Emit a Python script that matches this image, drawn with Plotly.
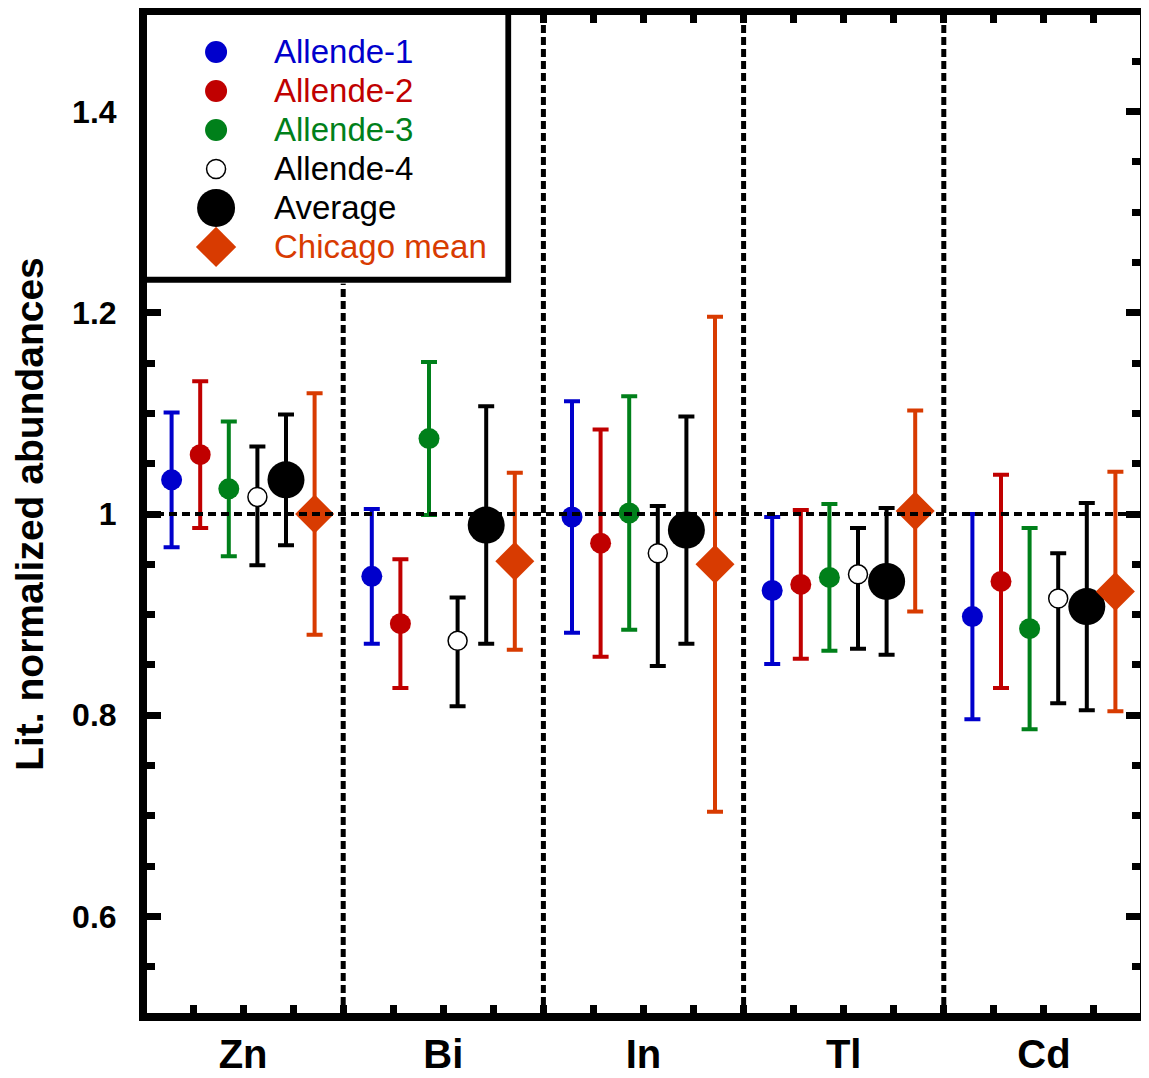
import plotly.graph_objects as go

# ---------------- data ----------------
elements = ["Zn", "Bi", "In", "Tl", "Cd"]
series_names = ["Allende-1", "Allende-2", "Allende-3", "Allende-4", "Average", "Chicago mean"]

allende1 = [1.034, 0.938, 0.997, 0.924, 0.898]
allende1_err = [0.067, 0.067, 0.115, 0.073, 0.102]

allende2 = [1.059, 0.891, 0.971, 0.930, 0.933]
allende2_err = [0.073, 0.064, 0.113, 0.074, 0.106]

allende3 = [1.025, 1.075, 1.001, 0.937, 0.886]
allende3_err = [0.067, 0.076, 0.116, 0.073, 0.100]

allende4 = [1.017, 0.874, 0.961, 0.940, 0.916]
allende4_err_plus = [0.050, 0.043, 0.047, 0.046, 0.045]
allende4_err_minus = [0.068, 0.065, 0.112, 0.074, 0.104]

average = [1.034, 0.989, 0.984, 0.933, 0.908]
average_err = [0.065, 0.118, 0.113, 0.073, 0.103]

chicago = [1.000, 0.953, 0.950, 1.003, 0.923]
chicago_err = [0.120, 0.088, 0.246, 0.100, 0.119]

y_tickvals = [0.6, 0.8, 1.0, 1.2, 1.4]
y_ticktext = ["0.6", "0.8", "1", "1.2", "1.4"]

# ---------------- styles ----------------
BLUE = "#0000CC"
RED = "#C00000"
GREEN = "#00801A"
ORANGE = "#D83B01"
FONT = "Liberation Sans, Arial, sans-serif"

series = [
    dict(y=allende1, ep=allende1_err, em=allende1_err, ecolor=BLUE,
         symbol="circle", size=21, fill=BLUE, lw=0, tcolor=BLUE, lsize=22),
    dict(y=allende2, ep=allende2_err, em=allende2_err, ecolor=RED,
         symbol="circle", size=21, fill=RED, lw=0, tcolor=RED, lsize=22),
    dict(y=allende3, ep=allende3_err, em=allende3_err, ecolor=GREEN,
         symbol="circle", size=21, fill=GREEN, lw=0, tcolor=GREEN, lsize=22),
    dict(y=allende4, ep=allende4_err_plus, em=allende4_err_minus, ecolor="black",
         symbol="circle", size=19, fill="white", lw=1.5, tcolor="black", lsize=19),
    dict(y=average, ep=average_err, em=average_err, ecolor="black",
         symbol="circle", size=37, fill="black", lw=0, tcolor="black", lsize=38),
    dict(y=chicago, ep=chicago_err, em=chicago_err, ecolor=ORANGE,
         symbol="diamond", size=30, fill=ORANGE, lw=0, tcolor=ORANGE, lsize=31),
]

n_series = len(series)
fig = go.Figure()

for k, s in enumerate(series):
    xs = [i + (k + 1) / (n_series + 1) for i in range(len(elements))]
    fig.add_trace(go.Scatter(
        x=xs, y=s["y"], mode="markers", name=series_names[k], showlegend=False,
        marker=dict(symbol=s["symbol"], size=s["size"], color=s["fill"],
                    line=dict(color="black", width=s["lw"])),
        error_y=dict(type="data", symmetric=False, array=s["ep"], arrayminus=s["em"],
                     color=s["ecolor"], thickness=4, width=8),
        cliponaxis=False,
    ))

# ---------------- manual legend (own small subplot) ----------------
for k, s in enumerate(series):
    fig.add_trace(go.Scatter(
        x=[73], y=[k], xaxis="x2", yaxis="y2", mode="markers", showlegend=False,
        hoverinfo="skip",
        marker=dict(symbol=s["symbol"], size=s["lsize"], color=s["fill"],
                    line=dict(color="black", width=s["lw"])),
    ))
    fig.add_annotation(x=129, y=k, xref="x2", yref="y2", text=series_names[k],
                       showarrow=False, xanchor="left", yanchor="middle",
                       font=dict(family=FONT, size=33, color=s["tcolor"]))

fig.add_shape(type="rect", xref="x2", yref="y2", x0=0, x1=365, y0=5.84, y1=-1.3,
              line=dict(color="black", width=6), fillcolor="white", layer="below")

# ---------------- reference lines ----------------
for d in range(1, len(elements)):
    fig.add_shape(type="line", xref="x", yref="paper", x0=d, x1=d, y0=0, y1=1,
                  line=dict(color="black", width=5, dash="8px,4px"), layer="below")
fig.add_shape(type="line", xref="paper", yref="y", x0=0, x1=1, y0=1.0, y1=1.0,
              line=dict(color="black", width=4, dash="8px,5px"), layer="above")

# frame (centred on the plot-area edges)
fig.add_shape(type="rect", xref="paper", yref="paper", x0=0, x1=1, y0=0, y1=1,
              line=dict(color="black", width=8), fillcolor="rgba(0,0,0,0)", layer="above")

# ---------------- axes ----------------
x_tickvals = [j * 0.25 for j in range(1, 4 * len(elements))]
x_ticktext = []
for v in x_tickvals:
    lab = ""
    for i, e in enumerate(elements):
        if abs(v - (i + 0.5)) < 1e-9:
            lab = e
    x_ticktext.append(lab)

fig.update_layout(
    width=1141, height=1070,
    margin=dict(l=135, r=5, t=3, b=61),
    paper_bgcolor="white", plot_bgcolor="white",
    font=dict(family=FONT, color="black"),
    xaxis=dict(range=[0, 5], tickmode="array", tickvals=x_tickvals, ticktext=x_ticktext,
               ticks="inside", ticklen=12, tickwidth=7, tickcolor="black",
               showline=True, linewidth=1, linecolor="black", mirror="ticks",
               showgrid=False, zeroline=False, automargin=False,
               ticklabelstandoff=2,
               tickfont=dict(family=FONT, size=40, color="black", weight="bold")),
    yaxis=dict(range=[0.5, 1.5], tickmode="array", tickvals=y_tickvals, ticktext=y_ticktext,
               ticks="inside", ticklen=18, tickwidth=7, tickcolor="black",
               minor=dict(tick0=0.5, dtick=0.05, ticks="inside", ticklen=12, tickwidth=7,
                          tickcolor="black", showgrid=False),
               showline=True, linewidth=1, linecolor="black", mirror="ticks",
               showgrid=False, zeroline=False, automargin=False,
               ticklabelstandoff=19,
               tickfont=dict(family=FONT, size=32, color="black", weight="bold"),
               title=dict(text="Lit. normalized abundances", standoff=20,
                          font=dict(family=FONT, size=39, color="black", weight="bold"))),
    xaxis2=dict(domain=[0, 0.368], range=[0, 368], visible=False, anchor="y2",
                fixedrange=True, automargin=False),
    yaxis2=dict(domain=[0.729, 1], range=[5.94, -1.05], visible=False, anchor="x2",
                fixedrange=True, automargin=False),
)

fig.write_html("out.html")
